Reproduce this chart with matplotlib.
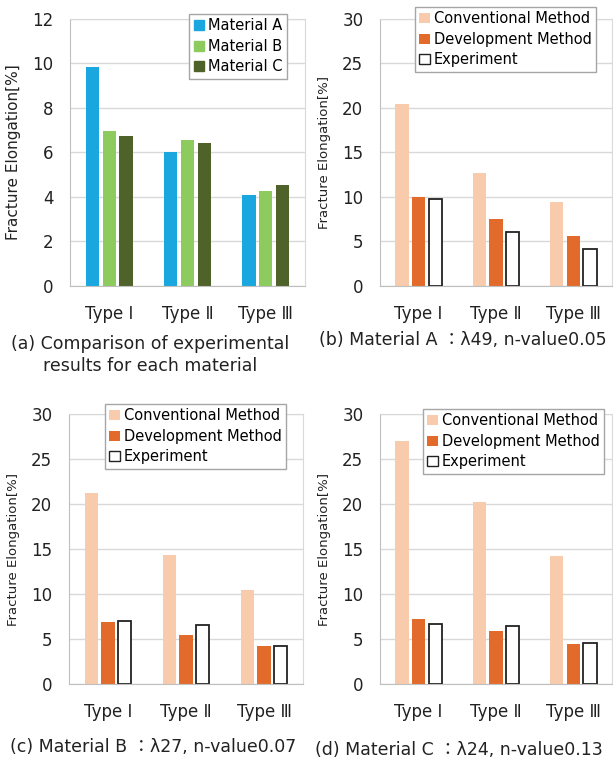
import numpy as np
import matplotlib.pyplot as plt
from matplotlib.patches import Patch

plt.rcParams['font.family'] = ['DejaVu Sans', 'Noto Sans CJK JP']

types = ['Type Ⅰ', 'Type Ⅱ', 'Type Ⅲ']

# (a) experimental results per material
mat_names = ['Material A', 'Material B', 'Material C']
mat_a = [9.84, 6.0, 4.11]
mat_b = [6.96, 6.54, 4.26]
mat_c = [6.75, 6.43, 4.54]
mat_colors = ['#1AA6DF', '#8DCB5E', '#4F6229']

# (b)-(d) method comparison
meth_names = ['Conventional Method', 'Development Method', 'Experiment']
conv_A = [20.4, 12.75, 9.49]
dev_A = [9.97, 7.5, 5.62]
exp_A = [9.82, 6.07, 4.16]
conv_B = [21.2, 14.3, 10.48]
dev_B = [6.85, 5.48, 4.22]
exp_B = [7.0, 6.56, 4.26]
conv_C = [27.03, 20.2, 14.26]
dev_C = [7.17, 5.94, 4.49]
exp_C = [6.72, 6.39, 4.57]

captions = ['(a) Comparison of experimental\nresults for each material',
            '(b) Material A ：λ49, n-value0.05',
            '(c) Material B ：λ27, n-value0.07',
            '(d) Material C ：λ24, n-value0.13']

W, H = 613, 760
fig = plt.figure(figsize=(W / 100, H / 100), dpi=100)


def px_axes(l, r, t, b):
    return fig.add_axes([l / W, (H - b) / H, (r - l) / W, (b - t) / H])


def style(ax, ymax, step, ylab_size, lpad):
    ax.set_xlim(-0.5, 2.5)
    ax.set_ylim(0, ymax)
    ax.set_yticks(np.arange(0, ymax + 0.1, step))
    ax.set_xticks(range(3))
    ax.set_xticklabels(types)
    ax.tick_params(length=0, labelsize=12, colors='#222222')
    ax.tick_params(axis='x', pad=14)
    ax.tick_params(axis='y', pad=12)
    ax.grid(axis='y', color='#D9D9D9', lw=1)
    ax.set_axisbelow(True)
    for s in ax.spines.values():
        s.set_color('#D9D9D9')
    ax.spines['left'].set_color('#BFBFBF')
    ax.spines['bottom'].set_color('#BFBFBF')
    ax.set_ylabel('Fracture Elongation[%]', fontsize=ylab_size, color='#222222',
                  labelpad=lpad)


def legend(handles, labels, loc, xy):
    fig.legend(handles, labels, loc=loc, bbox_to_anchor=(xy[0] / W, 1 - xy[1] / H),
               fontsize=10.5, handlelength=0.7, handleheight=0.7, handletextpad=0.3,
               labelspacing=0.38, borderpad=0.3, borderaxespad=0, fancybox=False,
               edgecolor='#A6A6A6', framealpha=1)


x = np.arange(3)

# panel (a)
ax = px_axes(70, 305, 19, 286)
w, st = 0.17, 0.215
for i, (vals, c) in enumerate(zip([mat_a, mat_b, mat_c], mat_colors)):
    ax.bar(x + (i - 1) * st, vals, w, color=c)
style(ax, 12, 2, 11, 8)
legend([Patch(color=c) for c in mat_colors], mat_names, 'upper right', (287, 14))


def method_panel(l, r, t, b, conv, dev, exp, leg_xy):
    ax = px_axes(l, r, t, b)
    w, st = 0.17, 0.215
    ax.bar(x - st, conv, w, color='#F8CBAD')
    ax.bar(x, dev, w, color='#E26B2C')
    ax.bar(x + st, exp, w, facecolor='white', edgecolor='#222222', lw=1.3)
    style(ax, 30, 5, 9.5, 8)
    hs = [Patch(facecolor='#F8CBAD'), Patch(facecolor='#E26B2C'),
          Patch(facecolor='white', edgecolor='#222222', lw=1)]
    legend(hs, meth_names, 'upper left', leg_xy)
    return ax


method_panel(380, 612, 19, 286, conv_A, dev_A, exp_A, (415, 7))
method_panel(69, 303, 414, 684, conv_B, dev_B, exp_B, (105, 404))
method_panel(380, 612, 414, 684, conv_C, dev_C, exp_C, (423, 409))

cap_xy = [(150, 355), (463, 340), (153, 747), (459, 750)]
for (cx, cy), txt in zip(cap_xy, captions):
    fig.text(cx / W, 1 - cy / H, txt, ha='center', va='center', fontsize=12.5,
             color='#222222', linespacing=1.25)

fig.savefig('out.png', dpi=100)
